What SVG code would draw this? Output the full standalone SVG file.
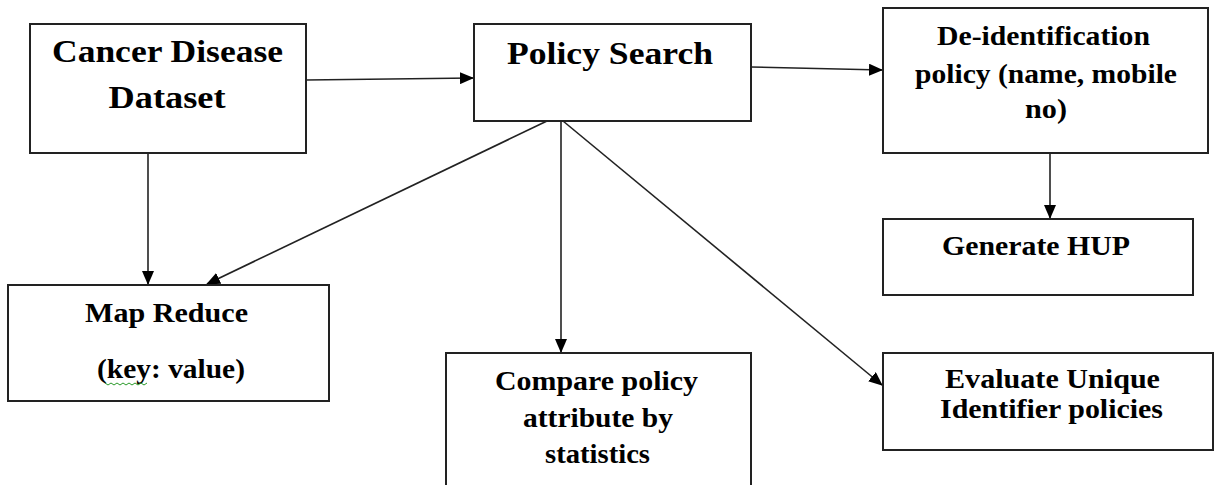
<svg xmlns="http://www.w3.org/2000/svg" width="1214" height="485" viewBox="0 0 1214 485">
<style>
.box{fill:#fff;stroke:#222;stroke-width:2}
.t{font-family:"Liberation Serif","Times New Roman",serif;font-weight:bold;fill:#000;text-anchor:middle}
.big{font-size:32px}
.sm{font-size:27px}
.c{stroke:#222;stroke-width:1.6;fill:none;marker-end:url(#ah)}
</style>
<defs>
<marker id="ah" markerUnits="userSpaceOnUse" markerWidth="14" markerHeight="12" refX="13" refY="6" orient="auto">
<path d="M0,0 L14,6 L0,12 z" fill="#000"/>
</marker>
</defs>
<rect width="1214" height="485" fill="#fff"/>
<g id="connectors">
<line class="c" x1="306" y1="80" x2="473" y2="78"/>
<line class="c" x1="751" y1="67" x2="882" y2="70"/>
<line class="c" x1="1050" y1="153" x2="1050" y2="218"/>
<line class="c" x1="148" y1="153" x2="148" y2="284"/>
<line class="c" x1="547" y1="121" x2="207" y2="284"/>
<line class="c" x1="561" y1="121" x2="561" y2="352"/>
<line class="c" x1="563" y1="121" x2="882" y2="385"/>
</g>
<g id="cancer">
<rect class="box" x="30" y="24" width="276" height="129"/>
<text class="t big" x="167.5" y="62" textLength="231" lengthAdjust="spacingAndGlyphs">Cancer Disease</text>
<text class="t big" x="167" y="108" textLength="117" lengthAdjust="spacingAndGlyphs">Dataset</text>
</g>
<g id="policy">
<rect class="box" x="474" y="24" width="277" height="97"/>
<text class="t big" x="610" y="64" textLength="206" lengthAdjust="spacingAndGlyphs">Policy Search</text>
</g>
<g id="deid">
<rect class="box" x="883" y="8" width="325" height="145"/>
<text class="t sm" x="1043.5" y="45" textLength="213" lengthAdjust="spacingAndGlyphs">De-identification</text>
<text class="t sm" x="1046" y="83" textLength="262" lengthAdjust="spacingAndGlyphs">policy (name, mobile</text>
<text class="t sm" x="1046" y="118" textLength="42" lengthAdjust="spacingAndGlyphs">no)</text>
</g>
<g id="hup">
<rect class="box" x="883" y="219" width="310" height="76"/>
<text class="t sm" x="1036" y="255" textLength="188" lengthAdjust="spacingAndGlyphs">Generate HUP</text>
</g>
<g id="mapreduce">
<rect class="box" x="8" y="285" width="321" height="116"/>
<text class="t sm" x="166.5" y="322" textLength="163" lengthAdjust="spacingAndGlyphs">Map Reduce</text>
<text class="t sm" x="171" y="378" textLength="148" lengthAdjust="spacingAndGlyphs">(key: value)</text>
<path d="M105,383 l3,2 l3,-2 l3,2 l3,-2 l3,2 l3,-2 l3,2 l3,-2 l3,2 l3,-2 l3,2 l3,-2 l3,2 l3,-2" fill="none" stroke="#2a9a2a" stroke-width="1"/>
</g>
<g id="compare">
<rect class="box" x="446" y="353" width="305" height="140"/>
<text class="t sm" x="596.5" y="390" textLength="203" lengthAdjust="spacingAndGlyphs">Compare policy</text>
<text class="t sm" x="598" y="427" textLength="150" lengthAdjust="spacingAndGlyphs">attribute by</text>
<text class="t sm" x="597.5" y="463" textLength="105" lengthAdjust="spacingAndGlyphs">statistics</text>
</g>
<g id="evaluate">
<rect class="box" x="883" y="353" width="330" height="97"/>
<text class="t sm" x="1052.5" y="388" textLength="215" lengthAdjust="spacingAndGlyphs">Evaluate Unique</text>
<text class="t sm" x="1051.5" y="418" textLength="223" lengthAdjust="spacingAndGlyphs">Identifier policies</text>
</g>
</svg>
